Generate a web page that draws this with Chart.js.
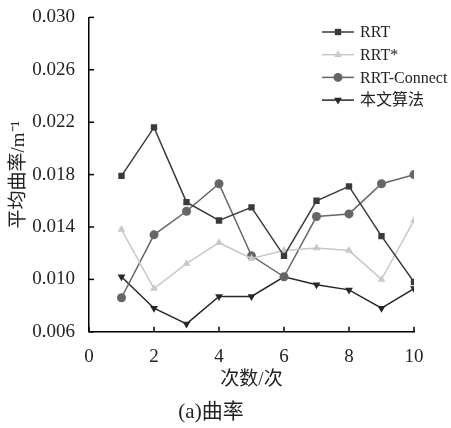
<!DOCTYPE html>
<html>
<head>
<meta charset="utf-8">
<script src="https://cdn.jsdelivr.net/npm/chart.js@4.4.0/dist/chart.umd.min.js"></script>
<style>
  html, body { margin: 0; padding: 0; background: #fff; }
  #wrap { width: 451px; height: 428px; position: relative; }
</style>
</head>
<body>
<div id="wrap"><canvas id="mychart"></canvas></div>
<script>
// runs 1..10
var runs = [1, 2, 3, 4, 5, 6, 7, 8, 9, 10];
var rrt        = [0.0179, 0.0216, 0.0159, 0.0145, 0.0155, 0.0118, 0.0160, 0.0171, 0.0133, 0.0098];
var rrtStar    = [0.0138, 0.0093, 0.0112, 0.0128, 0.0116, 0.0122, 0.0124, 0.0122, 0.0100, 0.0145];
var rrtConnect = [0.0086, 0.0134, 0.0152, 0.0173, 0.0118, 0.0102, 0.0148, 0.0150, 0.0173, 0.0180];
var ours       = [0.0102, 0.0078, 0.0066, 0.0087, 0.0087, 0.0102, 0.0096, 0.0092, 0.0078, 0.0093];
var xTicks = [0, 2, 4, 6, 8, 10];
var yTicks = [0.006, 0.010, 0.014, 0.018, 0.022, 0.026, 0.030];

var serif = '"Liberation Serif", "Noto Sans CJK SC", serif';

function pts(arr) {
    return runs.map(function(r, i) { return { x: r, y: arr[i] }; });
}

function series(label, arr, color, style, rot) {
    return {
        label: label,
        data: pts(arr),
        borderColor: color,
        backgroundColor: color,
        borderWidth: 1.5,
        pointStyle: style,
        pointRotation: rot || 0,
        pointRadius: 4.5,
        pointBorderWidth: 0,
        fill: false,
        tension: 0
    };
}

// ticks pointing into the plot + legend drawn inside chart area
var innerBits = {
    id: 'innerBits',
    afterDraw: function(chart) {
        var c = chart.ctx, a = chart.chartArea;
        var xs = chart.scales.x, ys = chart.scales.y;
        c.save();
        c.strokeStyle = '#000';
        c.lineWidth = 1.5;
        xTicks.forEach(function(v) {
            var px = xs.getPixelForValue(v);
            c.beginPath(); c.moveTo(px, a.bottom); c.lineTo(px, a.bottom - 5); c.stroke();
        });
        yTicks.forEach(function(v) {
            var py = ys.getPixelForValue(v);
            c.beginPath(); c.moveTo(a.left, py); c.lineTo(a.left + 5, py); c.stroke();
        });

        var x0 = 322, y0 = 32, gap = 22.7;
        chart.data.datasets.forEach(function(ds, i) {
            var y = y0 + i * gap;
            c.strokeStyle = ds.borderColor;
            c.lineWidth = 1.5;
            c.beginPath(); c.moveTo(x0, y); c.lineTo(x0 + 32, y); c.stroke();
            c.fillStyle = ds.backgroundColor;
            Chart.helpers.drawPoint(c, { pointStyle: ds.pointStyle, rotation: ds.pointRotation, radius: 4.5, borderWidth: 0 }, x0 + 16, y);
            c.fillStyle = '#222';
            c.font = '16px ' + serif;
            c.textBaseline = 'middle';
            c.fillText(ds.label, x0 + 38, y + 1);
        });
        c.restore();
    }
};

var ctx = document.getElementById('mychart');
var myChart = new Chart(ctx, {
    type: 'line',
    data: {
        datasets: [
            series('RRT', rrt, '#3a3a3a', 'rect'),
            series('RRT*', rrtStar, '#c8c8c8', 'triangle'),
            series('RRT-Connect', rrtConnect, '#666666', 'circle'),
            series('本文算法', ours, '#262626', 'triangle', 180)
        ]
    },
    options: {
        responsive: true,
        maintainAspectRatio: false,
        animation: false,
        layout: { padding: { top: 16, right: 37, left: 8, bottom: 0 } },
        plugins: {
            legend: { display: false },
            tooltip: { enabled: false },
            title: {
                display: true,
                position: 'bottom',
                text: '(a)曲率',
                color: '#222',
                font: { family: serif, size: 21, weight: 'normal' },
                padding: { top: 2, bottom: 3 }
            }
        },
        scales: {
            x: {
                type: 'linear',
                min: 0, max: 10,
                afterBuildTicks: function(s) { s.ticks = xTicks.map(function(v) { return { value: v }; }); },
                afterFit: function(s) { s.height = 66; },
                grid: { display: false },
                border: { display: true, color: '#000', width: 1.5 },
                ticks: { color: '#222', padding: 6, font: { family: serif, size: 19 } },
                title: {
                    display: true,
                    text: '次数/次',
                    color: '#222',
                    font: { family: serif, size: 19 },
                    padding: { top: 2, bottom: 6 }
                }
            },
            y: {
                min: 0.006, max: 0.030,
                afterBuildTicks: function(s) { s.ticks = yTicks.map(function(v) { return { value: v }; }); },
                afterFit: function(s) { s.width = 81; },
                grid: { display: false },
                border: { display: true, color: '#000', width: 1.5 },
                ticks: {
                    color: '#222', padding: 6,
                    font: { family: serif, size: 19 },
                    callback: function(v) { return v.toFixed(3); }
                },
                title: {
                    display: true,
                    text: '平均曲率/m⁻¹',
                    color: '#222',
                    font: { family: serif, size: 19 },
                    padding: { top: 0, bottom: 2 }
                }
            }
        }
    },
    plugins: [innerBits]
});
</script>
</body>
</html>
